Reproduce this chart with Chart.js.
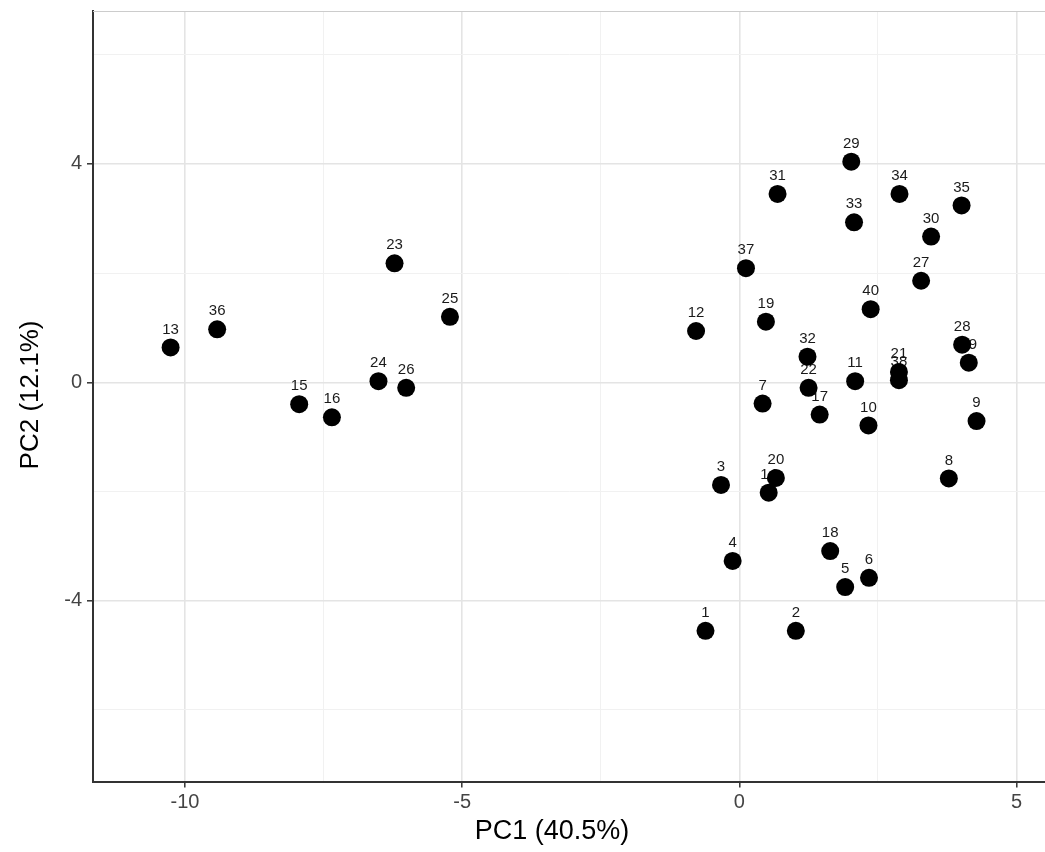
<!DOCTYPE html>
<html>
<head>
<meta charset="utf-8">
<script src="https://cdn.jsdelivr.net/npm/chart.js@4"></script>
<style>
  html, body { margin: 0; padding: 0; background: #fff; overflow: hidden; }
  #wrap { width: 1045px; height: 852px; }
</style>
</head>
<body>
<div id="wrap"><canvas id="c" width="1045" height="852"></canvas></div>
<script>
// ---- data ----
const sampleLabels = ['1','2','3','4','5','6','7','8','9','10','11','12','13','14','15','16','17','18','19','20',
                      '21','22','23','24','25','26','27','28','29','30','31','32','33','34','35','36','37','38','39','40'];
const pc1 = [-0.61, 1.02, -0.33, -0.12, 1.91, 2.34, 0.42, 3.78, 4.28, 2.33,
             2.09, -0.78, -10.26, 0.53, -7.94, -7.35, 1.45, 1.64, 0.48, 0.66,
             2.88, 1.25, -6.22, -6.51, -5.22, -6.01, 3.28, 4.02, 2.02, 3.46,
             0.69, 1.23, 2.07, 2.89, 4.01, -9.42, 0.12, 2.88, 4.14, 2.37];
const pc2 = [-4.55, -4.55, -1.88, -3.27, -3.75, -3.58, -0.39, -1.76, -0.71, -0.79,
             0.02, 0.94, 0.64, -2.02, -0.40, -0.64, -0.59, -3.09, 1.11, -1.75,
             0.19, -0.10, 2.18, 0.02, 1.20, -0.10, 1.86, 0.69, 4.04, 2.67,
             3.45, 0.47, 2.93, 3.45, 3.24, 0.97, 2.09, 0.04, 0.36, 1.34];
const xTickValues = [-10, -7.5, -5, -2.5, 0, 2.5, 5];
const xMajorTicks = [-10, -5, 0, 5];
const yTickValues = [-6, -4, -2, 0, 2, 4, 6];
const yMajorTicks = [-4, 0, 4];
const xTitle = 'PC1 (40.5%)';
const yTitle = 'PC2 (12.1%)';

const FONT = '"Liberation Sans", Arial, Helvetica, sans-serif';

const points = pc1.map((x, i) => ({ x: x, y: pc2[i] }));

function zeroPad(s) {
  s.paddingTop = 0; s.paddingBottom = 0; s.paddingLeft = 0; s.paddingRight = 0;
}

const decorPlugin = {
  id: 'decor',
  beforeDraw(chart) {
    const ctx = chart.ctx;
    ctx.save();
    ctx.fillStyle = '#ffffff';
    ctx.fillRect(0, 0, chart.width, chart.height);
    ctx.restore();
  },
  beforeDatasetsDraw(chart) {
    const ctx = chart.ctx;
    const a = chart.chartArea;
    ctx.save();
    // top panel border (light)
    ctx.strokeStyle = '#cccccc';
    ctx.lineWidth = 1.2;
    ctx.beginPath();
    ctx.moveTo(a.left, a.top + 0.5);
    ctx.lineTo(a.right, a.top + 0.5);
    ctx.stroke();
    // point labels (drawn beneath points)
    const meta = chart.getDatasetMeta(0);
    ctx.fillStyle = '#1a1a1a';
    ctx.font = '15px ' + FONT;
    ctx.textAlign = 'center';
    ctx.textBaseline = 'middle';
    meta.data.forEach((el, i) => {
      ctx.fillText(sampleLabels[i], el.x, el.y - 18);
    });
    ctx.restore();
  },
  afterDraw(chart) {
    const ctx = chart.ctx;
    ctx.save();
    ctx.fillStyle = '#000000';
    ctx.textAlign = 'center';
    ctx.textBaseline = 'middle';
    ctx.font = '27px ' + FONT;
    ctx.fillText(xTitle, 552, 832);
    ctx.translate(31, 395);
    ctx.rotate(-Math.PI / 2);
    ctx.font = '26px ' + FONT;
    ctx.fillText(yTitle, 0, 0);
    ctx.restore();
  }
};

new Chart(document.getElementById('c'), {
  type: 'scatter',
  data: {
    datasets: [{
      data: points,
      backgroundColor: '#000000',
      borderColor: '#000000',
      borderWidth: 0,
      pointRadius: 9,
      pointHoverRadius: 9
    }]
  },
  options: {
    responsive: false,
    animation: false,
    events: [],
    layout: { autoPadding: false, padding: { top: 11, left: 0, right: 0, bottom: 0 } },
    plugins: {
      legend: { display: false },
      tooltip: { enabled: false },
      title: { display: false }
    },
    scales: {
      x: {
        type: 'linear',
        min: -11.66,
        max: 5.515,
        afterBuildTicks: s => { s.ticks = xTickValues.map(v => ({ value: v })); },
        afterFit: s => { s.height = 70.5; zeroPad(s); },
        ticks: {
          autoSkip: false,
          maxRotation: 0,
          padding: 3,
          color: '#444444',
          font: { family: FONT, size: 20 },
          callback: v => xMajorTicks.includes(v) ? String(v) : ''
        },
        grid: {
          color: c => (c.tick && xMajorTicks.includes(c.tick.value)) ? '#e4e4e4' : '#f1f1f1',
          lineWidth: c => (c.tick && xMajorTicks.includes(c.tick.value)) ? 1.6 : 1,
          tickLength: 6,
          tickWidth: 1.5,
          tickColor: c => (c.tick && xMajorTicks.includes(c.tick.value)) ? '#333333' : 'rgba(0,0,0,0)'
        },
        border: { display: true, color: '#333333', width: 2 },
        title: { display: false }
      },
      y: {
        type: 'linear',
        min: -7.31,
        max: 6.80,
        afterBuildTicks: s => { s.ticks = yTickValues.map(v => ({ value: v })); },
        afterFit: s => { s.width = 93; zeroPad(s); },
        ticks: {
          autoSkip: false,
          padding: 5,
          color: '#444444',
          font: { family: FONT, size: 20 },
          callback: v => yMajorTicks.includes(v) ? String(v) : ''
        },
        grid: {
          color: c => (c.tick && yMajorTicks.includes(c.tick.value)) ? '#e4e4e4' : '#f1f1f1',
          lineWidth: c => (c.tick && yMajorTicks.includes(c.tick.value)) ? 1.6 : 1,
          tickLength: 6,
          tickWidth: 1.5,
          tickColor: c => (c.tick && yMajorTicks.includes(c.tick.value)) ? '#333333' : 'rgba(0,0,0,0)'
        },
        border: { display: true, color: '#333333', width: 2 },
        title: { display: false }
      }
    }
  },
  plugins: [decorPlugin]
});
</script>
</body>
</html>
